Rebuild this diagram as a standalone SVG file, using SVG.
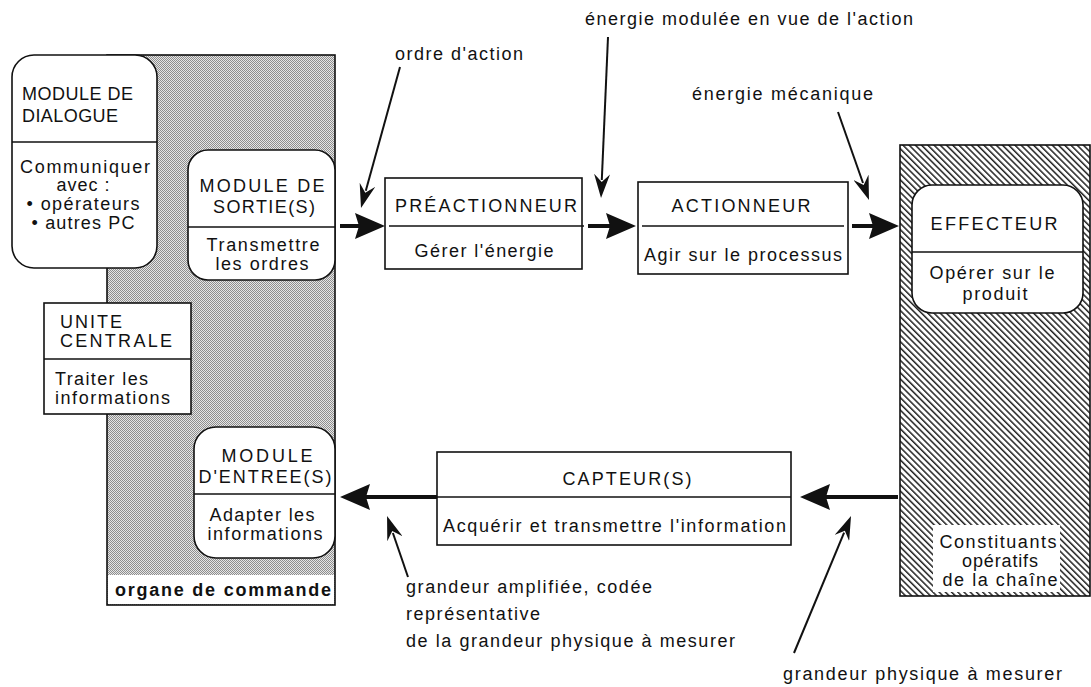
<svg xmlns="http://www.w3.org/2000/svg" width="1091" height="687" viewBox="0 0 1091 687">
<style>
text{font-family:"Liberation Sans",Arial,sans-serif;font-size:18px;fill:#111}
.c{text-anchor:middle}
.box{fill:#fff;stroke:#111;stroke-width:1.6}
.div{stroke:#111;stroke-width:1.5}
.flow{stroke:#111;stroke-width:4;fill:none}
.ann{stroke:#111;stroke-width:2;fill:none}
.b{font-weight:bold}
</style>
<defs>
<pattern id="dots" width="2" height="2" patternUnits="userSpaceOnUse">
<rect width="2" height="2" fill="#e6e6e6"/>
<rect width="1" height="1" fill="#8e8e8e"/>
<rect x="1" y="1" width="1" height="1" fill="#8e8e8e"/>
</pattern>
<pattern id="hatch" width="8" height="4.4" patternUnits="userSpaceOnUse" patternTransform="rotate(45)">
<rect width="8" height="4.4" fill="#fff"/>
<line x1="0" y1="1" x2="8" y2="1" stroke="#111" stroke-width="1.4"/>
</pattern>
<marker id="flowhead" viewBox="0 0 30 26" refX="10" refY="13" markerWidth="30" markerHeight="26" markerUnits="userSpaceOnUse" orient="auto">
<path d="M0,0 L30,13 L0,26 L4,13 Z" fill="#111"/>
</marker>
<marker id="annhead" viewBox="0 0 24 16" refX="6" refY="8" markerWidth="24" markerHeight="16" markerUnits="userSpaceOnUse" orient="auto">
<path d="M0,0 L24,8 L0,16 L8,8 Z" fill="#111"/>
</marker>
</defs>
<rect width="1091" height="687" fill="#fff"/>

<g id="organe-commande">
<rect x="107" y="55" width="228" height="550" fill="url(#dots)" stroke="#111" stroke-width="1.6"/>
<rect x="108" y="575" width="226" height="29" fill="#fff"/>
<text class="b" x="115" y="596" textLength="216" lengthAdjust="spacing">organe de commande</text>
</g>

<g id="module-dialogue">
<rect class="box" x="12" y="55" width="145" height="213" rx="22"/>
<line class="div" x1="12" y1="142" x2="157" y2="142"/>
<text x="22" y="100" textLength="111" lengthAdjust="spacing">MODULE DE</text>
<text x="22" y="122" textLength="96" lengthAdjust="spacing">DIALOGUE</text>
<text class="c" x="85" y="173" textLength="130" lengthAdjust="spacing">Communiquer</text>
<text class="c" x="83" y="191" textLength="53" lengthAdjust="spacing">avec :</text>
<text class="c" x="83" y="210" textLength="113" lengthAdjust="spacing">• opérateurs</text>
<text class="c" x="83" y="229" textLength="103" lengthAdjust="spacing">• autres PC</text>
</g>

<g id="module-sortie">
<rect class="box" x="188" y="150" width="147" height="130" rx="20"/>
<line class="div" x1="188" y1="227" x2="335" y2="227"/>
<text class="c" x="262" y="192" textLength="125" lengthAdjust="spacing">MODULE DE</text>
<text class="c" x="264" y="213" textLength="102" lengthAdjust="spacing">SORTIE(S)</text>
<text class="c" x="263" y="251" textLength="113" lengthAdjust="spacing">Transmettre</text>
<text class="c" x="262" y="270" textLength="93" lengthAdjust="spacing">les ordres</text>
</g>

<g id="unite-centrale">
<rect class="box" x="44" y="303" width="147" height="111"/>
<line class="div" x1="44" y1="359" x2="191" y2="359"/>
<text x="60" y="328" textLength="62" lengthAdjust="spacing">UNITE</text>
<text x="60" y="347" textLength="112" lengthAdjust="spacing">CENTRALE</text>
<text x="55" y="385" textLength="93" lengthAdjust="spacing">Traiter les</text>
<text x="55" y="404" textLength="115" lengthAdjust="spacing">informations</text>
</g>

<g id="module-entree">
<rect class="box" x="194" y="427" width="141" height="131" rx="22"/>
<line class="div" x1="194" y1="494" x2="335" y2="494"/>
<text class="c" x="267" y="462" textLength="91" lengthAdjust="spacing">MODULE</text>
<text class="c" x="265" y="483" textLength="133" lengthAdjust="spacing">D'ENTREE(S)</text>
<text class="c" x="262" y="521" textLength="105" lengthAdjust="spacing">Adapter les</text>
<text class="c" x="265" y="540" textLength="115" lengthAdjust="spacing">informations</text>
</g>

<g id="preactionneur">
<rect class="box" x="385" y="178" width="197" height="91"/>
<line class="div" x1="389" y1="226" x2="584" y2="226"/>
<text class="c" x="486" y="212" textLength="182" lengthAdjust="spacing">PRÉACTIONNEUR</text>
<text class="c" x="484" y="257" textLength="139" lengthAdjust="spacing">Gérer l'énergie</text>
</g>

<g id="actionneur">
<rect class="box" x="638" y="182" width="210" height="92"/>
<line class="div" x1="642" y1="226" x2="844" y2="226"/>
<text class="c" x="741" y="212" textLength="139" lengthAdjust="spacing">ACTIONNEUR</text>
<text class="c" x="743" y="261" textLength="198" lengthAdjust="spacing">Agir sur le processus</text>
</g>

<g id="constituants-operatifs">
<rect x="900" y="145" width="190" height="451" fill="url(#hatch)" stroke="#111" stroke-width="1.6"/>
<rect x="933" y="525" width="127" height="67" fill="#fff"/>
<text class="c" x="998" y="548" textLength="117" lengthAdjust="spacing">Constituants</text>
<text class="c" x="1000" y="567" textLength="76" lengthAdjust="spacing">opératifs</text>
<text class="c" x="1000" y="586" textLength="115" lengthAdjust="spacing">de la chaîne</text>
</g>

<g id="effecteur">
<rect class="box" x="912" y="185" width="171" height="128" rx="20"/>
<line class="div" x1="912" y1="252" x2="1083" y2="252"/>
<text class="c" x="994" y="230" textLength="127" lengthAdjust="spacing">EFFECTEUR</text>
<text class="c" x="992" y="279" textLength="125" lengthAdjust="spacing">Opérer sur le</text>
<text class="c" x="995" y="300" textLength="65" lengthAdjust="spacing">produit</text>
</g>

<g id="capteurs">
<rect class="box" x="437" y="452" width="354" height="93"/>
<line class="div" x1="437" y1="497" x2="791" y2="497"/>
<text class="c" x="627" y="485" textLength="129" lengthAdjust="spacing">CAPTEUR(S)</text>
<text x="443" y="532" textLength="343" lengthAdjust="spacing">Acquérir  et transmettre l'information</text>
</g>

<g id="connectors">
<line class="flow" x1="340" y1="226" x2="365" y2="226" marker-end="url(#flowhead)"/>
<line class="flow" x1="588" y1="226" x2="616" y2="226" marker-end="url(#flowhead)"/>
<line class="flow" x1="852" y1="226" x2="879" y2="226" marker-end="url(#flowhead)"/>
<line class="flow" x1="898" y1="497" x2="820" y2="497" marker-end="url(#flowhead)"/>
<line class="flow" x1="437" y1="497" x2="360" y2="497" marker-end="url(#flowhead)"/>
<line class="ann" x1="400" y1="67" x2="365.8" y2="190.7" marker-end="url(#annhead)"/>
<line class="ann" x1="608" y1="37" x2="601.8" y2="180" marker-end="url(#annhead)"/>
<line class="ann" x1="838" y1="112" x2="863" y2="183" marker-end="url(#annhead)"/>
<line class="ann" x1="408" y1="577" x2="392.9" y2="533" marker-end="url(#annhead)"/>
<line class="ann" x1="794" y1="653" x2="844.1" y2="532.6" marker-end="url(#annhead)"/>
</g>

<g id="labels">
<text x="395" y="60" textLength="128" lengthAdjust="spacing">ordre d'action</text>
<text x="585" y="25" textLength="328" lengthAdjust="spacing">énergie modulée en vue de l'action</text>
<text x="692" y="100" textLength="181" lengthAdjust="spacing">énergie mécanique</text>
<text x="406" y="593" textLength="246" lengthAdjust="spacing">grandeur amplifiée, codée</text>
<text x="406" y="620" textLength="134" lengthAdjust="spacing">représentative</text>
<text x="406" y="647" textLength="329" lengthAdjust="spacing">de la grandeur physique à mesurer</text>
<text x="783" y="680" textLength="279" lengthAdjust="spacing">grandeur physique à mesurer</text>
</g>
</svg>
